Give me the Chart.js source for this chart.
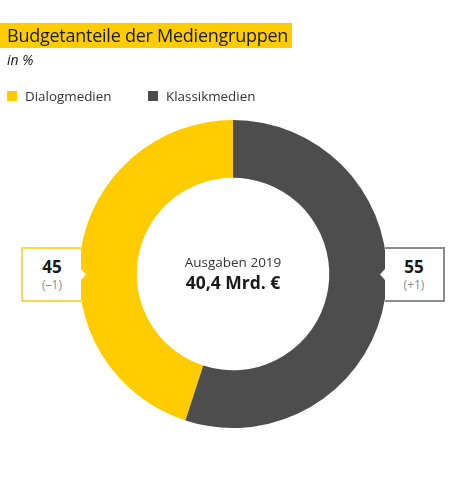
<!DOCTYPE html>
<html lang="de">
<head>
<meta charset="utf-8">
<title>Budgetanteile der Mediengruppen</title>
<script src="https://cdn.jsdelivr.net/npm/chart.js@4"></script>
<style>
  html, body { margin: 0; padding: 0; background: #fff; }
  body { width: 467px; height: 484px; position: relative; overflow: hidden; font-family: "Open Sans", sans-serif; color: #1a1a1a; }
  canvas { position: absolute; left: 0; top: 0; }
  .abs { position: absolute; white-space: nowrap; }
  #titleBar { left: 0; top: 23px; width: 292px; height: 25px; background: #ffcc00; }
  #title { left: 7px; top: 22px; font-size: 18px; line-height: 26px; letter-spacing: -0.25px; }
  #unit { left: 7px; top: 51px; font-size: 14px; line-height: 18px; font-style: italic; }
  .swatch { width: 10px; height: 10px; top: 91px; }
  .legendText { top: 87px; font-size: 13.4px; line-height: 18px; color: #333; }
  .box { top: 247px; width: 58px; height: 51px; background: #fff; border: 2px solid; text-align: center; }
  .box b { display: block; font-size: 17px; line-height: 20px; margin-top: 8px; font-weight: 700; }
  .box span { display: block; font-size: 12px; line-height: 16px; color: #8c8c8c; }
  .notch { top: 269px; width: 5px; height: 11px; background: #fff; }
  #centerTop { left: 133px; width: 200px; top: 253px; text-align: center; font-size: 13.5px; line-height: 18px; color: #333; }
  #centerBig { left: 133px; width: 200px; top: 270px; text-align: center; font-size: 17.5px; line-height: 24px; font-weight: 700; }
</style>
</head>
<body>
<canvas id="budgetChart" width="467" height="484"></canvas>
<div class="abs" id="titleBar"></div>
<div class="abs" id="title"></div>
<div class="abs" id="unit"></div>
<div class="abs" id="centerTop"></div>
<div class="abs" id="centerBig"></div>
<script>
// ===== Data =====
const categories = ['Dialogmedien', 'Klassikmedien'];
const shares = [45, 55];
const changes = ['(\u20131)', '(+1)'];
const colors = ['#ffcc00', '#4d4d4d'];
const boxBorders = ['#fbd84f', '#8c8c8c'];

const titleText = 'Budgetanteile der Mediengruppen';
const unitText = 'in %';
const centerLabel = 'Ausgaben 2019';
const centerValue = '40,4 Mrd. \u20ac';

// ===== Text =====
document.getElementById('title').textContent = titleText;
document.getElementById('unit').textContent = unitText;
document.getElementById('centerTop').textContent = centerLabel;
document.getElementById('centerBig').textContent = centerValue;

function addEl(cls, css) {
  const el = document.createElement('div');
  el.className = 'abs ' + cls;
  Object.assign(el.style, css);
  document.body.appendChild(el);
  return el;
}

// ===== Legend =====
const swatchX = [7, 148];
const legendX = [25, 166];
categories.forEach((name, i) => {
  addEl('swatch', { left: swatchX[i] + 'px', background: colors[i] });
  addEl('legendText', { left: legendX[i] + 'px' }).textContent = name;
});

// ===== Value boxes =====
// the side facing the ring has no border, the white box just cuts into it
const boxX = [21, 385];
const openSide = ['borderRight', 'borderLeft'];
shares.forEach((val, i) => {
  const box = addEl('box', { left: boxX[i] + 'px', borderColor: boxBorders[i], [openSide[i]]: 'none' });
  const big = document.createElement('b');
  big.textContent = val;
  const small = document.createElement('span');
  small.textContent = changes[i];
  box.appendChild(big);
  box.appendChild(small);
});
// kleine Kerben am Ring
addEl('notch', { left: '81px', clipPath: 'polygon(0 0, 100% 50%, 0 100%)' });
addEl('notch', { left: '380px', clipPath: 'polygon(100% 0, 0 50%, 100% 100%)' });

// ===== Doughnut =====
new Chart(document.getElementById('budgetChart').getContext('2d'), {
  type: 'doughnut',
  data: {
    labels: categories,
    datasets: [{ data: shares, backgroundColor: colors, borderWidth: 0 }]
  },
  options: {
    responsive: false, animation: false,
    rotation: 198, radius: 154, cutout: '62.5%',
    layout: { padding: { top: 64, right: 1 } },
    plugins: { legend: { display: false }, tooltip: { enabled: false } }
  }
});
</script>
</body>
</html>
